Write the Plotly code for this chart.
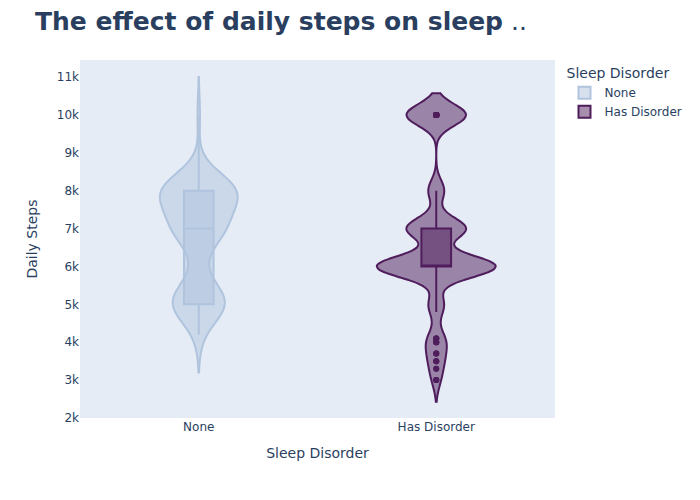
import numpy as np
import plotly.graph_objects as go

none_steps = [4200, 5000, 5500, 6000, 6800, 7000, 7500, 8000, 10000]
none_counts = [5, 56, 9, 5, 5, 47, 9, 80, 3]

disorder_steps = [3000, 3300, 3500, 3700, 4000, 4100, 4800, 5000, 6000, 7000, 8000, 10000]
disorder_counts = [3, 2, 3, 3, 4, 4, 1, 7, 60, 30, 8, 30]

groups = ["None", "Has Disorder"]
line_colors = ["#B0C4DE", "#4F1D5C"]
bandwidths = [500, None]
violin_widths = [0.328, 0.5]
box_widths = [0.38, 0.25]

samples = [np.repeat(none_steps, none_counts), np.repeat(disorder_steps, disorder_counts)]

FONT = "Verdana, DejaVu Sans, sans-serif"

fig = go.Figure()
for name, vals, col, bw, vw, bxw in zip(groups, samples, line_colors, bandwidths, violin_widths, box_widths):
    kw = dict(bandwidth=bw) if bw else {}
    fig.add_trace(go.Violin(
        x=[name] * len(vals),
        y=vals,
        name=name,
        line=dict(color=col),
        marker=dict(color=col, size=6),
        box=dict(visible=True, width=bxw),
        points="outliers",
        pointpos=0,
        jitter=0,
        width=vw,
        scalemode="width",
        **kw,
    ))

fig.update_layout(
    width=700,
    height=500,
    font=dict(family=FONT),
    title=dict(text="<b>The effect of daily steps on sleep</b> ..", font=dict(size=25, family=FONT), x=0.05),
    legend=dict(title=dict(text="Sleep Disorder")),
    violinmode="overlay",
    margin=dict(l=80, r=145, t=60, b=82),
    xaxis=dict(title=dict(text="Sleep Disorder"), showgrid=False, categoryorder="array",
               categoryarray=groups, range=[-0.5, 1.5]),
    yaxis=dict(title=dict(text="Daily Steps"), showgrid=False, range=[2000, 11450], dtick=1000, zeroline=False),
)

fig.write_html("out.html")
